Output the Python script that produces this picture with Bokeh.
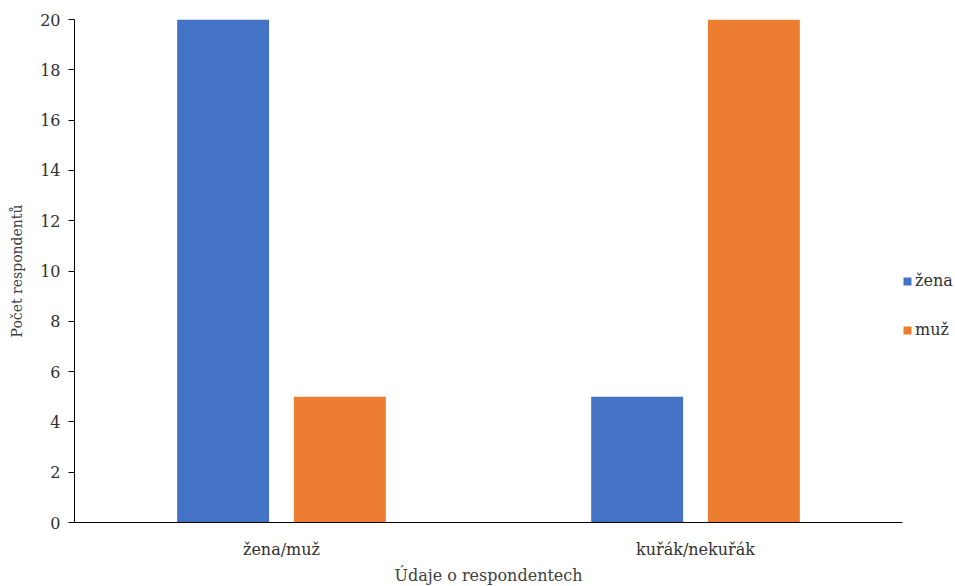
from bokeh.plotting import figure
from bokeh.models import ColumnDataSource, FactorRange, Range1d, Legend, LegendItem, FixedTicker
from bokeh.transform import dodge
from bokeh.embed import file_html
from bokeh.resources import INLINE

categories = ["žena/muž", "kuřák/nekuřák"]
zena = [20, 5]
muz = [5, 20]
y_ticks = [0, 2, 4, 6, 8, 10, 12, 14, 16, 18, 20]

source = ColumnDataSource(data=dict(cat=categories, zena=zena, muz=muz))

FONT = "DejaVu Serif"
p = figure(x_range=FactorRange(*categories), y_range=Range1d(0, 20),
           frame_width=828, frame_height=503, min_border_left=74, min_border_top=19,
           min_border_bottom=64, min_border_right=0,
           output_backend="svg", toolbar_location=None)

r1 = p.vbar(x=dodge("cat", -0.141, range=p.x_range), top="zena", width=0.222,
            source=source, color="#4472C4", line_color=None)
r2 = p.vbar(x=dodge("cat", 0.141, range=p.x_range), top="muz", width=0.222,
            source=source, color="#ED7D31", line_color=None)

p.outline_line_color = None
p.xgrid.grid_line_color = None
p.ygrid.grid_line_color = None

p.yaxis.ticker = FixedTicker(ticks=y_ticks)
p.yaxis.axis_label = "Počet respondentů"
p.xaxis.axis_label = "Údaje o respondentech"
for ax in (p.xaxis[0], p.yaxis[0]):
    ax.axis_label_text_font = FONT
    ax.axis_label_text_font_style = "normal"
    ax.axis_label_text_color = "#404040"
    ax.major_label_text_font = FONT
    ax.major_label_text_color = "#303030"
    ax.major_label_text_font_size = "16px"
    ax.axis_line_color = "#000000"
    ax.major_tick_line_color = "#000000"
    ax.minor_tick_line_color = None
    ax.major_tick_in = 0

p.yaxis.axis_label_text_font_size = "14px"
p.xaxis.axis_label_text_font_size = "16px"
p.yaxis.major_tick_out = 6
p.yaxis.major_label_standoff = 8
p.yaxis.axis_label_standoff = 12
p.xaxis.major_tick_out = 0
p.xaxis.major_label_standoff = 17
p.xaxis.axis_label_standoff = 4

legend = Legend(items=[LegendItem(label="žena", renderers=[r1]),
                       LegendItem(label="muž", renderers=[r2])],
                location=(0, 183), orientation="vertical",
                border_line_color=None, background_fill_alpha=0,
                glyph_width=10, glyph_height=10, label_standoff=3,
                padding=0, margin=0, spacing=30,
                label_text_font=FONT, label_text_font_size="16px",
                label_text_color="#303030")
p.add_layout(legend, "right")

open("out.html", "w").write(file_html(p, INLINE))
